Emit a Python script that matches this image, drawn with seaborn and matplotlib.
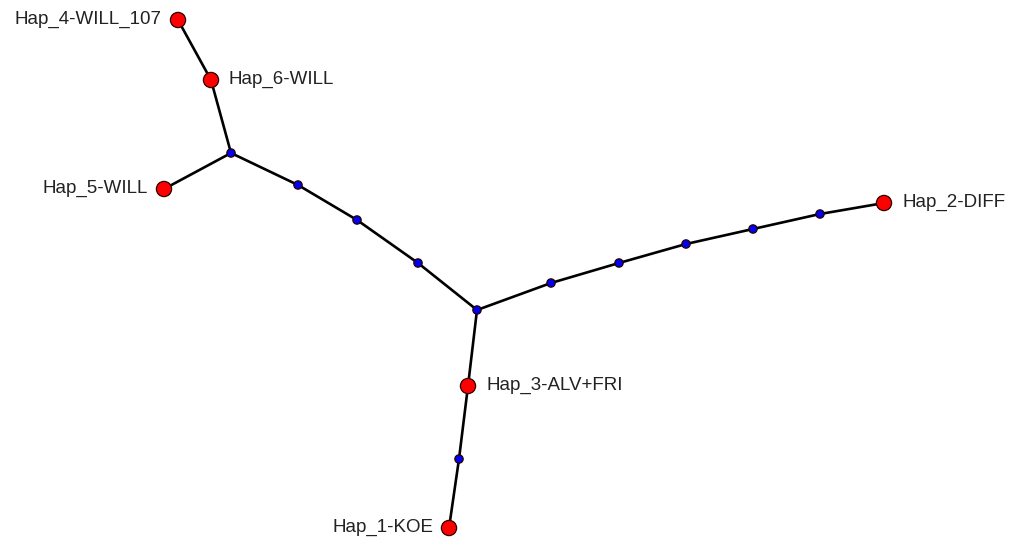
import matplotlib
matplotlib.use("Agg")
import matplotlib.pyplot as plt
import seaborn as sns
import pandas as pd

# node positions (picture coordinates, y grows downward)
node_names = ["Hap_4-WILL_107", "Hap_6-WILL", "m1", "Hap_5-WILL", "m2", "m3", "m4",
              "m5", "m6", "m7", "m8", "m9", "m10", "Hap_2-DIFF",
              "Hap_3-ALV+FRI", "m11", "Hap_1-KOE"]
node_x = [178, 211, 231, 164, 298, 357, 418, 477, 551, 619, 686, 753, 820, 884, 468, 459, 449]
node_y = [20, 80, 153, 189, 185, 220, 263, 310, 283, 263, 244, 229, 214, 203, 386, 459, 528]
node_kind = ["hap", "hap", "median", "hap", "median", "median", "median", "median", "median",
             "median", "median", "median", "median", "hap", "hap", "median", "hap"]

edges = [("Hap_4-WILL_107", "Hap_6-WILL"), ("Hap_6-WILL", "m1"), ("m1", "Hap_5-WILL"),
         ("m1", "m2"), ("m2", "m3"), ("m3", "m4"), ("m4", "m5"),
         ("m5", "m6"), ("m6", "m7"), ("m7", "m8"), ("m8", "m9"), ("m9", "m10"),
         ("m10", "Hap_2-DIFF"), ("m5", "Hap_3-ALV+FRI"), ("Hap_3-ALV+FRI", "m11"),
         ("m11", "Hap_1-KOE")]

# label side: 'left' means label sits to the left of the node
label_side = {"Hap_4-WILL_107": "left", "Hap_6-WILL": "right", "Hap_5-WILL": "left",
              "Hap_2-DIFF": "right", "Hap_3-ALV+FRI": "right", "Hap_1-KOE": "left"}

nodes = pd.DataFrame({"name": node_names, "x": node_x, "y": node_y, "kind": node_kind})
pos = nodes.set_index("name")

sns.set_style("white")
plt.rcParams["font.family"] = ["Liberation Sans", "DejaVu Sans"]

fig = plt.figure(figsize=(10.17, 5.42), dpi=100)
ax = fig.add_axes([0, 0, 1, 1])

for a, b in edges:
    ax.plot([pos.loc[a, "x"], pos.loc[b, "x"]], [pos.loc[a, "y"], pos.loc[b, "y"]],
            color="black", lw=1.9, zorder=1, solid_capstyle="round")

sns.scatterplot(data=nodes, x="x", y="y", hue="kind", size="kind",
                palette={"hap": "#ff0000", "median": "#0000ee"},
                sizes={"hap": 120, "median": 36},
                edgecolor="#2a0000", linewidth=0.9, legend=False, ax=ax, zorder=3)

for name, side in label_side.items():
    x, y = pos.loc[name, "x"], pos.loc[name, "y"]
    if side == "left":
        ax.text(x - 16, y - 1, name, ha="right", va="center", fontsize=13.5, color="#222222")
    else:
        ax.text(x + 18, y - 1, name, ha="left", va="center", fontsize=13.5, color="#222222")

ax.set_xlim(0, 1017)
ax.set_ylim(542, 0)
ax.axis("off")

fig.savefig("out.png", dpi=100)
